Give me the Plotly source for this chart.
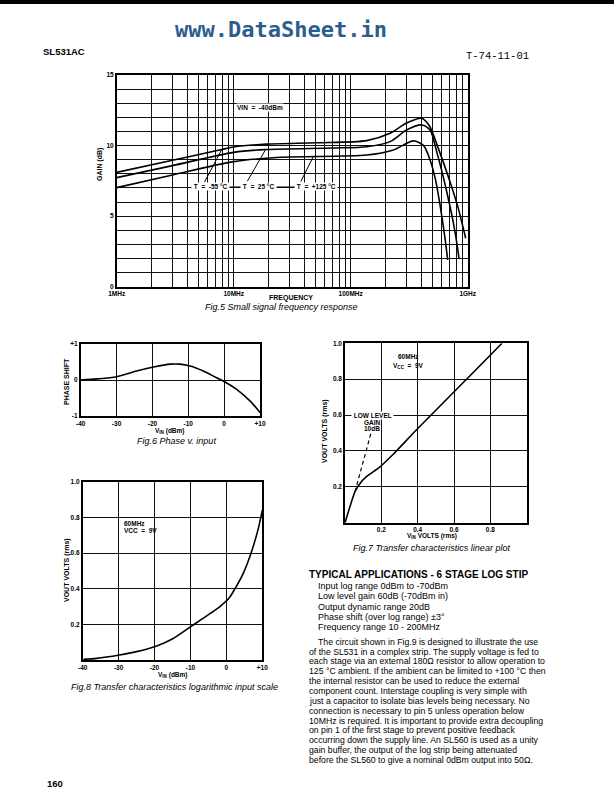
import plotly.graph_objects as go
import numpy as np

W, H = 614, 792

# ---------------- DATA ----------------
# Fig.5 small-signal frequency response (frequency in MHz, gain in dB)
f_m55 = [1, 3, 7.9, 10, 19, 50, 137, 217, 300, 404, 470, 561, 706, 831, 961]
g_m55 = [8.1, 8.96, 9.72, 9.9, 10.1, 10.2, 10.35, 10.87, 11.6, 11.93, 11.4, 9.8, 7.44, 5.55, 3.43]
f_25 = [1, 3, 10, 19, 71, 137, 217, 300, 404, 476, 543, 662, 779, 843]
g_25 = [7.73, 8.58, 9.52, 9.72, 9.83, 9.92, 10.28, 11.1, 11.46, 11.1, 9.57, 6.73, 3.9, 2.0]
f_125 = [1, 3, 10, 25, 137, 232, 343, 420, 476, 530, 580, 640, 674]
g_125 = [7.02, 7.92, 8.86, 9.17, 9.33, 9.69, 10.33, 10.0, 9.0, 7.6, 5.79, 3.43, 1.9]
freq_grid = [m * d for d in (1, 10, 100) for m in range(1, 10)] + [1000]
freq_labels = {1: "1MHz", 10: "10MHz", 100: "100MHz", 1000: "1GHz"}
gain_grid = list(range(0, 16))
gain_labels = {0: "0", 5: "5", 10: "10", 15: "15"}

# Fig.6 phase v. input
phase_vin = [-40, -35.5, -30, -24.4, -19.7, -15, -12.3, -9.5, -5.8, -2.1, 0, 3.5, 7.2, 10]
phase_val = [0.0, 0.03, 0.09, 0.25, 0.36, 0.44, 0.44, 0.39, 0.25, 0.06, -0.04, -0.26, -0.58, -0.9]
dbm_ticks = [-40, -30, -20, -10, 0, 10]
dbm_labels = ["-40", "-30", "-20", "-10", "0", "+10"]
phase_ticks = [-1, 0, 1]
phase_labels = ["-1", "0", "+1"]

# Fig.7 transfer characteristic, linear
lin_vin = [0, 0.027, 0.055, 0.091, 0.118, 0.191, 0.264, 0.391, 0.591, 0.791, 0.864]
lin_vout = [0, 0.089, 0.173, 0.229, 0.257, 0.31, 0.38, 0.515, 0.72, 0.925, 1.0]
lowgain_vin = [0.055, 0.145]
lowgain_vout = [0.173, 0.507]
volt_ticks = [0.2, 0.4, 0.6, 0.8]
volt_y_ticks = [0.2, 0.4, 0.6, 0.8, 1.0]
volt_y_labels = ["0.2", "0.4", "0.6", "0.8", "1.0"]

# Fig.8 transfer characteristic, log input
log_vin = [-39.8, -36.1, -29.8, -25, -19.4, -14.8, -9.7, -5.5, -1.8, 0.7, 2.4, 4.7, 7.0, 8.9, 10]
log_vout = [0.004, 0.009, 0.028, 0.047, 0.079, 0.121, 0.19, 0.247, 0.3, 0.346, 0.40, 0.486, 0.607, 0.738, 0.84]

# Text
list_lines = [
    "Input log range 0dBm to -70dBm",
    "Low level gain 60dB (-70dBm in)",
    "Output dynamic range 20dB",
    "Phase shift (over log range) \u00b13\u00b0",
    "Frequency range 10 - 200MHz",
]
para_lines = [
    "The circuit shown in Fig.9 is designed to illustrate the use",
    "of the SL531 in a complex strip. The supply voltage is fed to",
    "each stage via an external 180\u03a9 resistor to allow operation to",
    "125 \u00b0C ambient. If the ambient can be limited to +100 \u00b0C then",
    "the internal resistor can be used to reduce the external",
    "component count. Interstage coupling is very simple with",
    "just a capacitor to isolate bias levels being necessary. No",
    "connection is necessary to pin 5 unless operation below",
    "10MHz is required. It is important to provide extra decoupling",
    "on pin 1 of the first stage to prevent positive feedback",
    "occurring down the supply line. An SL560 is used as a unity",
    "gain buffer, the output of the log strip being attenuated",
    "before the SL560 to give a nominal 0dBm output into 50\u03a9.",
]

# ---------------- HELPERS ----------------
def PX(x):
    return x / W

def PY(y):
    return 1 - y / H

FONT = "Liberation Sans"
annotations = []

def txt(s, x, y, size=7, bold=False, italic=False, xanchor="center", angle=0,
        family=FONT, color="black", bg=None):
    if bold:
        s = "<b>" + s + "</b>"
    if italic:
        s = "<i>" + s + "</i>"
    a = dict(text=s, x=PX(x), y=PY(y), xref="paper", yref="paper", showarrow=False,
             xanchor=xanchor, yanchor="middle", textangle=angle,
             font=dict(family=family, size=size, color=color), borderpad=0)
    if bg:
        a["bgcolor"] = bg
    annotations.append(a)

def axis(domain, anchor, rng, tickvals, ticktext, typ="linear"):
    return dict(domain=domain, anchor=anchor, range=rng, type=typ,
                tickmode="array", tickvals=tickvals, ticktext=["<b>%s</b>" % t if t else "" for t in ticktext],
                showline=True, linecolor="black", linewidth=1.5, mirror=True,
                showgrid=True, gridcolor="#111", gridwidth=1, zeroline=False,
                ticks="", tickfont=dict(family=FONT, size=6.5, color="black"), fixedrange=True)

line = dict(color="black", width=1.6, shape="spline", smoothing=0.8)

fig = go.Figure()
# Fig 5
for fx, gy in ((f_m55, g_m55), (f_25, g_25), (f_125, g_125)):
    fig.add_trace(go.Scatter(x=fx, y=gy, mode="lines", line=line, xaxis="x", yaxis="y",
                             showlegend=False, hoverinfo="skip"))
# Fig 6
fig.add_trace(go.Scatter(x=phase_vin, y=phase_val, mode="lines", line=line, xaxis="x2", yaxis="y2",
                         showlegend=False, hoverinfo="skip"))
# Fig 7
fig.add_trace(go.Scatter(x=lin_vin, y=lin_vout, mode="lines",
                         line=dict(color="black", width=1.6, shape="spline", smoothing=0.5),
                         xaxis="x3", yaxis="y3", showlegend=False, hoverinfo="skip"))
fig.add_trace(go.Scatter(x=lowgain_vin, y=lowgain_vout, mode="lines", line=dict(color="black", width=1.2, dash="4px,3px"),
                         xaxis="x3", yaxis="y3", showlegend=False, hoverinfo="skip"))
# Fig 8
fig.add_trace(go.Scatter(x=log_vin, y=log_vout, mode="lines", line=line, xaxis="x4", yaxis="y4",
                         showlegend=False, hoverinfo="skip"))

# domains
d5x = [PX(116.7), PX(467.7)]; d5y = [PY(286.7), PY(75)]
d6x = [PX(80.7), PX(260)];    d6y = [PY(416), PY(344)]
d7x = [PX(345), PX(526.7)];   d7y = [PY(522.7), PY(343.3)]
d8x = [PX(82.7), PX(262.3)];  d8y = [PY(660), PY(481.7)]

layout = dict(
    width=W, height=H, margin=dict(l=0, r=0, t=0, b=0),
    paper_bgcolor="white", plot_bgcolor="white", template="none",
    xaxis=axis(d5x, "y", [0, 3], freq_grid, [freq_labels.get(v, "") for v in freq_grid], "log"),
    yaxis=axis(d5y, "x", [0, 15], gain_grid, [gain_labels.get(v, "") for v in gain_grid]),
    xaxis2=axis(d6x, "y2", [-40, 10], dbm_ticks, dbm_labels),
    yaxis2=axis(d6y, "x2", [-1, 1], phase_ticks, phase_labels),
    xaxis3=axis(d7x, "y3", [0, 1.0], volt_ticks, [str(v) for v in volt_ticks]),
    yaxis3=axis(d7y, "x3", [0, 1.0], volt_y_ticks, volt_y_labels),
    xaxis4=axis(d8x, "y4", [-40, 10], dbm_ticks, dbm_labels),
    yaxis4=axis(d8y, "x4", [0, 1.0], volt_y_ticks, volt_y_labels),
)
fig.update_layout(**layout)

# ---------------- TEXT ----------------
txt("www.DataSheet.in", 281, 30, size=22, bold=True, family="DejaVu Sans Mono", color="#2d5c8e")
txt("SL531AC", 42, 51, size=9.5, bold=True, xanchor="left")
txt("T-74-11-01", 497, 56, size=10.5, family="Liberation Mono")
txt("160", 46, 783, size=9.5, bold=True, xanchor="left")

# Fig 5
txt("GAIN (dB)", 100, 165, size=7, bold=True, angle=-90)
txt("FREQUENCY", 291, 298, size=7, bold=True)
txt("Fig.5 Small signal frequency response", 281, 307, size=9, italic=True)
txt("VIN  =  -40dBm", 260, 108, size=6.5, bold=True, bg="white")
# pointers to curves
for fx, gy, ax, ay in ((7.9, 9.72, -18, 34), (18.7, 9.71, -19, 33), (47.7, 9.19, -13, 26)):
    annotations.append(dict(x=np.log10(fx), y=gy, xref="x", yref="y", text="", showarrow=True,
                            arrowhead=0, arrowwidth=1, arrowcolor="black", ax=ax, ay=ay, standoff=0))
txt(" T  =  -55 \u00b0C ", 210, 186, size=6.5, bold=True, bg="white")
txt(" T  =  25 \u00b0C ", 258, 186, size=6.5, bold=True, bg="white")
txt(" T  =  +125 \u00b0C ", 316, 186, size=6.5, bold=True, bg="white")

# Fig 6
txt("PHASE SHIFT", 67, 382, size=7, bold=True, angle=-90)
txt("V<sub>IN</sub> (dBm)", 170, 431, size=6.5, bold=True)
txt("Fig.6 Phase v. input", 176, 441, size=9, italic=True)

# Fig 7
txt("VOUT VOLTS (rms)", 325, 431, size=7, bold=True, angle=-90)
txt("V<sub>IN</sub> VOLTS (rms)", 432, 536, size=6.5, bold=True)
txt("Fig.7 Transfer characteristics linear plot", 431, 548, size=9, italic=True)
txt("60MHz", 408, 357, size=6.5, bold=True)
txt("V<sub>CC</sub>  =  9V", 408, 366, size=6.5, bold=True)
txt(" LOW LEVEL ", 372, 415, size=6.5, bold=True, bg="white")
txt("GAIN", 372, 422, size=6.5, bold=True)
txt("10dB", 372, 429, size=6.5, bold=True)

# Fig 8
txt("VOUT VOLTS (rms)", 67, 570, size=7, bold=True, angle=-90)
txt("V<sub>IN</sub> (dBm)", 173, 675, size=6.5, bold=True)
txt("Fig.8 Transfer characteristics logarithmic input scale", 174, 687, size=9, italic=True)
txt("60MHz", 123, 523, size=6.5, bold=True, xanchor="left")
txt("VCC  =  9V", 123, 530, size=6.5, bold=True, xanchor="left")

# Typical applications
txt("TYPICAL APPLICATIONS - 6 STAGE LOG STIP", 308, 574, size=10, bold=True, xanchor="left")
for i, s in enumerate(list_lines):
    txt(s, 317, 586 + 10.3 * i, size=9, xanchor="left")
for i, s in enumerate(para_lines):
    txt(s, 317 if i == 0 else 308, 641.7 + 9.85 * i, size=8.7, xanchor="left")

shapes = [
    dict(type="rect", xref="paper", yref="paper", x0=0, x1=1, y0=PY(4), y1=1,
         fillcolor="black", line=dict(width=0)),
    dict(type="line", xref="paper", yref="paper", x0=PX(228.5), x1=PX(242.5), y0=PY(187), y1=PY(187),
         line=dict(color="black", width=1)),
    dict(type="line", xref="paper", yref="paper", x0=PX(273.5), x1=PX(296), y0=PY(187), y1=PY(187),
         line=dict(color="black", width=1)),
]
fig.update_layout(annotations=annotations, shapes=shapes)

fig.write_html("out.html")
